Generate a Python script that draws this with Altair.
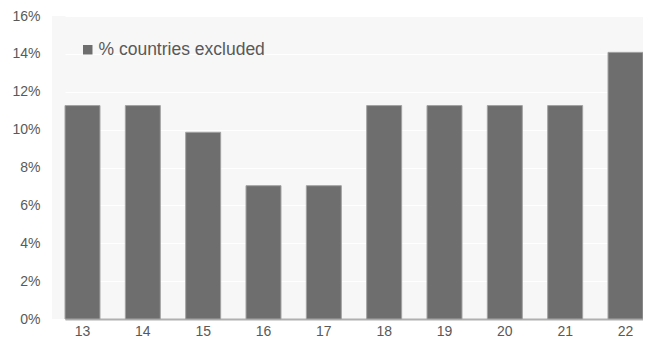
import altair as alt
import pandas as pd

categories = ["13", "14", "15", "16", "17", "18", "19", "20", "21", "22"]
values = [0.1127, 0.1127, 0.0986, 0.0704, 0.0704, 0.1127, 0.1127, 0.1127, 0.1127, 0.1408]
series_name = "% countries excluded"
y_ticks = [0, 0.02, 0.04, 0.06, 0.08, 0.10, 0.12, 0.14, 0.16]

df = pd.DataFrame({"year": categories, "share": values, "series": [series_name] * len(categories)})

chart = alt.Chart(df).mark_bar(stroke="#a3a3a3", strokeWidth=1).encode(
    x=alt.X(
        "year:N",
        sort=categories,
        scale=alt.Scale(range=[13, 591], paddingInner=0.42, paddingOuter=0),
        axis=alt.Axis(
            title=None, labelAngle=0, ticks=False, grid=False,
            domainColor="#b0b0b0", domainWidth=2,
            labelColor="#595959", labelFontSize=14, labelPadding=5,
        ),
    ),
    y=alt.Y(
        "share:Q",
        scale=alt.Scale(domain=[0, 0.16], nice=False),
        axis=alt.Axis(
            title=None, format=".0%", values=y_ticks, domain=False, ticks=False,
            gridColor="#ffffff", gridWidth=1,
            labelColor="#595959", labelFontSize=14, labelPadding=12,
        ),
    ),
    color=alt.Color(
        "series:N",
        scale=alt.Scale(range=["#6e6e6e"]),
        legend=alt.Legend(
            title=None, orient="none", legendX=27, legendY=25,
            symbolType="square", symbolSize=90, symbolStrokeWidth=0,
            labelFontSize=17.5, labelColor="#595959", labelOffset=2,
            labelLimit=400,
        ),
    ),
).properties(
    width=591,
    height=303,
    autosize=alt.AutoSizeParams(type="none"),
    padding={"left": 44, "top": 8, "right": 0, "bottom": 19},
).configure(
    font="Liberation Sans",
).configure_view(
    fill="#f7f7f7", stroke=None,
)

chart.save("out.html", embed_options={"renderer": "svg", "actions": False})
